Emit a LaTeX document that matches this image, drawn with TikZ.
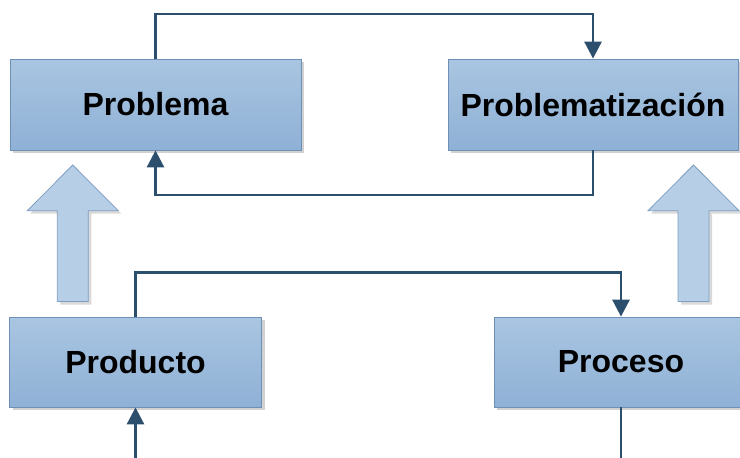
\documentclass[tikz,border=0pt]{standalone}
\usepackage{fontspec}
\setmainfont{Liberation Sans}
\usetikzlibrary{arrows.meta,shadows}
\definecolor{boxtop}{HTML}{A9C5E1}
\definecolor{boxbot}{HTML}{8FB1D6}
\definecolor{boxline}{HTML}{6E90B6}
\definecolor{connc}{HTML}{2C4F6E}
\definecolor{bigfill}{HTML}{B6CEE6}
\definecolor{bigline}{HTML}{7E9EC1}
\tikzset{
  box/.style={rectangle, draw=boxline, line width=0.8pt, top color=boxtop, bottom color=boxbot,
    font=\fontsize{32}{36}\selectfont\bfseries, text=black, inner sep=0pt,
    drop shadow={shadow xshift=3pt, shadow yshift=-3pt, fill=black!18, opacity=1}},
  conn/.style={draw=connc, line width=2.8pt, -{Triangle[length=17pt,width=17pt]}},
  plainconn/.style={draw=connc, line width=2.8pt},
  bigarrow/.style={fill=bigfill, draw=bigline, line width=0.8pt,
    drop shadow={shadow xshift=3pt, shadow yshift=-3pt, fill=black!15, opacity=1}}
}
\begin{document}
\begin{tikzpicture}[x=1pt,y=-1pt]
\useasboundingbox (0,0) rectangle (740,458);
\clip (0,0) rectangle (740,458);
% big arrows
\path[bigarrow] (72.7,165) -- (118.3,210.7) -- (88.3,210.7) -- (88.3,301.5) -- (57.3,301.5) -- (57.3,210.7) -- (27.3,210.7) -- cycle;
\path[bigarrow] (693.5,165) -- (739,210.7) -- (709,210.7) -- (709,301.5) -- (678,301.5) -- (678,210.7) -- (648,210.7) -- cycle;
% boxes
\node[box, minimum width=291pt, minimum height=91pt] (prob) at (155.5,104.5) {Problema};
\node[box, minimum width=290pt, minimum height=91pt] (probz) at (593,104.5) {Problematización};
\node[box, minimum width=252pt, minimum height=90pt] (prod) at (135.5,362) {Producto};
\node[box, minimum width=254pt, minimum height=90pt] (proc) at (621,362) {Proceso};
% connector anchors
\coordinate (t1) at (370,14);
\coordinate (t2) at (370,195);
\coordinate (t3) at (370,272.5);
\coordinate (b1) at (370,470);
% connectors
\draw[conn] (prob.north) |- (t1) -| (probz.north);
\draw[conn] (probz.south) |- (t2) -| (prob.south);
\draw[conn] (prod.north) |- (t3) -| (proc.north);
\draw[plainconn] (proc.south) -- (proc.south |- b1);
\draw[conn] (prod.south |- b1) -- (prod.south);
\end{tikzpicture}
\end{document}
